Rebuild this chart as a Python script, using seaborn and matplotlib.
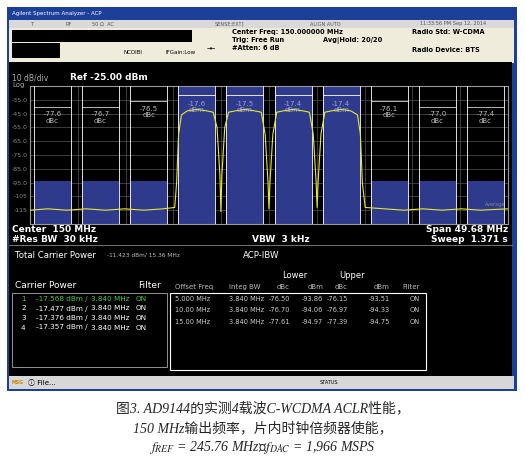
import matplotlib
matplotlib.use("Agg")
import matplotlib.pyplot as plt
import matplotlib.patches as mpatches
import seaborn as sns
import pandas as pd

sns.set_style("dark")
plt.rcParams['font.family'] = ['DejaVu Sans', 'Noto Sans CJK SC']
plt.rcParams['mathtext.fontset'] = 'stix'

# ---- data ----
carrier_freqs = [142.5, 147.5, 152.5, 157.5]
carrier_labels = ["-17.6", "-17.5", "-17.4", "-17.4"]
adj_freqs = [127.5, 132.5, 137.5, 162.5, 167.5, 172.5]
adj_labels = ["-77.6", "-76.7", "-76.5", "-76.1", "-77.0", "-77.4"]
adj_label_level = [-48, -48, -44, -44, -48, -48]
adj_box_top = -94.0
integ_bw = 3.84

trace_freq = [125.2, 127.0, 129.0, 131.0, 133.0, 135.0, 137.0, 139.0, 140.2, 140.4, 140.6,
              140.9, 141.5, 142.5, 143.5, 144.2, 144.6, 144.9, 145.0, 145.1, 145.4, 145.8,
              146.5, 147.5, 148.5, 149.2, 149.6, 149.9, 150.0, 150.1, 150.4, 150.8,
              151.5, 152.5, 153.5, 154.2, 154.6, 154.9, 155.0, 155.1, 155.4, 155.8,
              156.5, 157.5, 158.5, 159.2, 159.5, 159.7, 160.0, 162.0, 164.0, 166.0,
              168.0, 170.0, 172.0, 174.8]
trace_level = [-115, -114, -115, -114, -115, -114, -115, -114, -113, -95, -60,
               -46, -43, -42, -43, -44, -55, -90, -116, -90, -55, -44,
               -43, -42, -43, -44, -60, -95, -114, -95, -60, -44,
               -43, -42, -43, -44, -60, -95, -113, -95, -60, -44,
               -43, -42, -43, -46, -60, -95, -113, -114, -115, -114,
               -115, -114, -115, -114]
ytick_vals = [-35, -45, -55, -65, -75, -85, -95, -105, -115]
ytick_text = ["-35.0", "-45.0", "-55.0", "-65.0", "-75.0", "-85.0", "-95.0", "-105", "-115"]

carrier_rows = [("1", "-17.568 dBm /", "3.840 MHz", "ON"),
                ("2", "-17.477 dBm /", "3.840 MHz", "ON"),
                ("3", "-17.376 dBm /", "3.840 MHz", "ON"),
                ("4", "-17.357 dBm /", "3.840 MHz", "ON")]
acp_rows = [("5.000 MHz", "3.840 MHz", "-76.50", "-93.86", "-76.15", "-93.51", "ON"),
            ("10.00 MHz", "3.840 MHz", "-76.70", "-94.06", "-76.97", "-94.33", "ON"),
            ("15.00 MHz", "3.840 MHz", "-77.61", "-94.97", "-77.39", "-94.75", "ON")]

W, H = 525, 462
fig = plt.figure(figsize=(W / 100, H / 100), dpi=100, facecolor='white')

# background in pixel coordinates
bg = fig.add_axes([0, 0, 1, 1])
bg.set_xlim(0, W)
bg.set_ylim(H, 0)
bg.axis('off')

def rect(x, y, w, h, fc, ec='none', lw=0.8):
    bg.add_patch(mpatches.Rectangle((x, y), w, h, fc=fc, ec=ec, lw=lw))

def txt(x, y, s, size=5.5, color='white', **kw):
    bg.text(x, y, s, fontsize=size, color=color, va='center', **kw)

rect(7, 7, 510, 384, '#1c3f9a')            # window frame
rect(9, 20, 505, 8, '#d9d9d9')              # status row
rect(9, 28, 505, 35, '#efecdc')             # info panel
rect(9, 62, 503, 314, 'black')              # screen
rect(9, 376, 505, 13, '#d7d7d7')            # bottom bar
rect(12, 30, 180, 12, 'black')
rect(12, 43, 48, 15, 'black')

txt(12, 14, "Agilent Spectrum Analyzer - ACP", 4, 'white')
for x, s in [(30, "T"), (66, "RF"), (92, "50 Ω  AC"), (215, "SENSE:EXT]"), (310, "ALIGN AUTO"),
             (420, "11:33:56 PM Sep 12, 2014")]:
    txt(x, 24, s, 3.6, '#555555')
txt(232, 32, "Center Freq: 150.000000 MHz", 4.8, 'black', weight='bold')
txt(232, 40, "Trig: Free Run", 4.8, 'black', weight='bold')
txt(323, 40, "Avg|Hold: 20/20", 4.8, 'black', weight='bold')
txt(232, 48, "#Atten: 6 dB", 4.8, 'black', weight='bold')
txt(412, 32, "Radio Std: W-CDMA", 4.8, 'black', weight='bold')
txt(412, 50, "Radio Device: BTS", 4.8, 'black', weight='bold')
txt(123, 52, "NCOIBI", 4, 'black')
txt(165, 52, "IFGain:Low", 4, 'black')
txt(207, 48, "→←", 4, 'black')

txt(12, 78, "10 dB/div", 5.5, '#aaaaaa')
txt(12, 85, "Log", 5, '#aaaaaa')
txt(70, 78, "Ref -25.00 dBm", 6.5, 'white', weight='bold')

txt(12, 230, "Center  150 MHz", 6.5, weight='bold')
txt(12, 239, "#Res BW  30 kHz", 6.5, weight='bold')
txt(252, 239, "VBW  3 kHz", 6.5, weight='bold')
txt(508, 230, "Span 49.68 MHz", 6.5, weight='bold', ha='right')
txt(508, 239, "Sweep  1.371 s", 6.5, weight='bold', ha='right')
bg.plot([9, 512], [245, 245], color='#888888', lw=0.6)

# table region
txt(15, 255, "Total Carrier Power", 6.2)
txt(107, 255, "-11.423 dBm/ 15.36 MHz", 4.2, '#bbbbbb')
txt(243, 255, "ACP-IBW", 6.2)
txt(15, 285, "Carrier Power", 6.5)
txt(138, 285, "Filter", 6.5)
rect(12, 293, 155, 74, 'none', '#aaaaaa', 0.6)
for i, (n, p, bw, f) in enumerate(carrier_rows):
    c = '#3ecf3e' if i == 0 else 'white'
    y = 299 + i * 9.5
    txt(21, y, n, 5.2, c)
    txt(36, y, p, 5.2, c)
    txt(91, y, bw, 5.2, c)
    txt(136, y, f, 5.2, c)
rect(170, 293, 256, 77, 'none', 'white', 0.8)
txt(295, 276, "Lower", 6, ha='center')
txt(352, 276, "Upper", 6, ha='center')
heads = [(175, "Offset Freq", 'left'), (229, "Integ BW", 'left'), (290, "dBc", 'right'),
         (323, "dBm", 'right'), (348, "dBc", 'right'), (390, "dBm", 'right'), (420, "Filter", 'right')]
for x, s, ha in heads:
    txt(x, 287, s, 5, '#bbbbbb', ha=ha)
for i, row in enumerate(acp_rows):
    y = 299 + i * 11.5
    for (x, _, ha), s in zip(heads, row):
        txt(x, y, s, 4.8, '#cccccc', ha=ha)

txt(12, 382, "MSG", 3.4, '#cc8800', weight='bold')
txt(28, 382, "ⓘ File...", 5, 'black')
txt(320, 382, "STATUS", 3.6, 'black')

# caption
cap_font = ['Liberation Serif', 'Noto Sans CJK SC']
fig.text(0.5, 1 - 408 / H, "图3. AD9144的实测4载波C-WCDMA ACLR性能，", ha='center', va='center',
         fontsize=10, style='italic', family=cap_font)
fig.text(0.5, 1 - 428 / H, "150 MHz输出频率，片内时钟倍频器使能，", ha='center', va='center',
         fontsize=10, style='italic', family=cap_font)
fig.text(0.5, 1 - 448 / H, r"$f_{REF}$ = 245.76 MHz，$f_{DAC}$ = 1,966 MSPS", ha='center', va='center',
         fontsize=10, style='italic', family=cap_font)

# spectrum plot
ax = fig.add_axes([30 / W, 1 - 224 / H, 478 / W, 138 / H])
ax.set_facecolor('black')
ax.set_xlim(125.16, 174.84)
ax.set_ylim(-125, -25)
for y in ytick_vals + [-25, -125]:
    ax.axhline(y, color='#555555', lw=0.5, zorder=0)
for k in range(11):
    ax.axvline(125.16 + k * 4.968, color='#555555', lw=0.5, zorder=0)
for sp in ax.spines.values():
    sp.set_color('#999999')
ax.set_yticks(ytick_vals)
ax.set_yticklabels(ytick_text)
ax.tick_params(axis='y', labelsize=4.5, colors='#888888', length=0, pad=2)
ax.set_xticks([])

box_c = '#2e3a8c'
for f, lab in zip(carrier_freqs, carrier_labels):
    ax.add_patch(mpatches.Rectangle((f - integ_bw / 2, -125), integ_bw, 100, fc=box_c, ec='none', zorder=1))
    ax.plot([f - integ_bw / 2, f + integ_bw / 2], [-31.5, -31.5], color='white', lw=0.6, zorder=3)
    ax.text(f, -40, lab + "\ndBm", color='#9aa0d8', fontsize=5, ha='center', va='center',
            linespacing=1.0, zorder=4)
    for e in (f - integ_bw / 2, f + integ_bw / 2):
        ax.axvline(e, color='white', lw=0.6, zorder=3)
for f, lab, yl in zip(adj_freqs, adj_labels, adj_label_level):
    x0 = f - integ_bw / 2
    ax.add_patch(mpatches.Rectangle((x0, -125), integ_bw, adj_box_top + 125, fc=box_c, ec='none', zorder=1))
    ax.axvline(x0, color='white', lw=0.6, zorder=3)
    ax.axvline(x0 + integ_bw, color='white', lw=0.6, zorder=3)
    ax.plot([x0, x0 + integ_bw], [yl + 8, yl + 8], color='white', lw=0.5, zorder=3)
    ax.text(f, yl, lab + "\ndBc", color='#bbbbbb', fontsize=5, ha='center', va='center',
            linespacing=1.1, zorder=4)

df = pd.DataFrame({"freq": trace_freq, "level": trace_level})
sns.lineplot(data=df, x="freq", y="level", ax=ax, color='#e8e830', lw=0.8, zorder=5)
ax.set_xlabel("")
ax.set_ylabel("")
ax.text(174.6, -112, "Average", color='#888888', fontsize=3.5, ha='right', zorder=6)

fig.savefig("out.png", dpi=100, facecolor='white')
